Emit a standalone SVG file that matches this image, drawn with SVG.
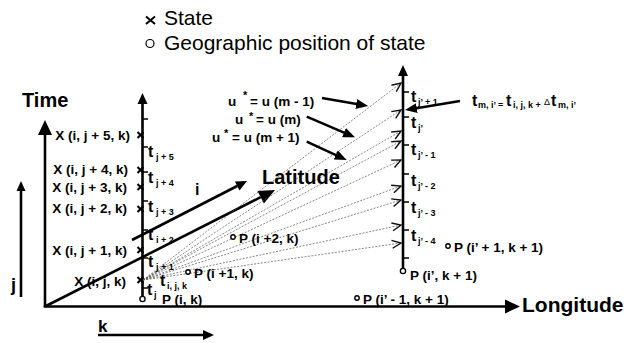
<svg xmlns="http://www.w3.org/2000/svg" width="644" height="343" viewBox="0 0 644 343">
<style>
.ax{stroke:#000;stroke-width:2.6;fill:none}
.hd{fill:#000;stroke:none}
.tk{stroke:#000;stroke-width:1.6;fill:none}
.xm{stroke:#000;stroke-width:2;fill:none}
.dl{stroke:#555;stroke-width:0.7;stroke-dasharray:2 1.4;fill:none;marker-end:url(#open)}
.ar{stroke:#000;stroke-width:2.5;fill:none;marker-end:url(#fill)}
.pt{fill:#fff;stroke:#000;stroke-width:1.4}
.lbl{font-family:"Liberation Sans",Arial,sans-serif;font-weight:bold;font-size:13.5px;fill:#000}
.tt{font-family:"Liberation Sans",Arial,sans-serif;font-weight:bold;font-size:16px;fill:#000}
.sub{font-family:"Liberation Sans",Arial,sans-serif;font-weight:bold;font-size:9px;fill:#000}
.star{font-family:"Liberation Sans",Arial,sans-serif;font-weight:bold;font-size:11px;fill:#000}
.big{font-family:"Liberation Sans",Arial,sans-serif;font-weight:bold;font-size:20px;fill:#000}
.leg{font-family:"Liberation Sans",Arial,sans-serif;font-size:21px;fill:#000}
</style>
<defs>
<marker id="open" viewBox="0 0 9 8" refX="9" refY="4" markerWidth="9" markerHeight="8" markerUnits="userSpaceOnUse" orient="auto" overflow="visible">
<path d="M0,0 L9,4 L0,8" fill="none" stroke="#111" stroke-width="1.4"/>
</marker>
<marker id="fill" viewBox="0 0 12 10" refX="2" refY="5" markerWidth="12" markerHeight="10" markerUnits="userSpaceOnUse" orient="auto">
<path d="M0,0 L12,5 L0,10 z" fill="#000"/>
</marker>
</defs>

<g id="legend">
<path class="xm" d="M146,16.5 L155,24 M155,16.5 L146,24"/>
<text class="leg" x="164" y="25">State</text>
<circle cx="150" cy="43.5" r="4" fill="none" stroke="#000" stroke-width="1.2"/>
<text class="leg" x="164" y="50">Geographic position of state</text>
</g>

<g id="axes">
<line class="ax" x1="45" y1="307" x2="45" y2="134"/>
<polygon class="hd" points="45,120 38,135 52,135"/>
<line class="ax" x1="43.7" y1="306.5" x2="507" y2="306.5"/>
<polygon class="hd" points="520,306.5 505,299.5 505,313.5"/>
<line class="ax" x1="21" y1="297" x2="21" y2="189"/>
<polygon class="hd" points="21,181 16.5,191 25.5,191"/>
<line class="ax" x1="98" y1="335" x2="204" y2="335"/>
<polygon class="hd" points="214,335 203,330 203,340"/>
<line class="ax" x1="45" y1="306.5" x2="260.7" y2="197.2"/>
<polygon class="hd" points="275,190 263.9,203.4 257.5,191"/>
<line class="ax" x1="132" y1="240" x2="237.2" y2="186"/>
<polygon class="hd" points="247,181 239.5,190.4 234.9,181.6"/>
</g>

<g id="time-axis-left">
<line class="ax" x1="142.5" y1="296" x2="142.5" y2="102"/>
<polygon class="hd" points="142.5,93 137.5,104 147.5,104"/>
<path class="tk" d="M142.5,119 H148 M142.5,147 H148 M142.5,172 H148 M142.5,201 H148 M142.5,230 H148 M142.5,258 H148 M142.5,288 H148"/>
<path class="xm" d="M137.5,132 L143.5,138 M143.5,132 L137.5,138 M137.5,167 L143.5,173 M143.5,167 L137.5,173 M137.5,184 L143.5,190 M143.5,184 L137.5,190 M137.5,206 L143.5,212 M143.5,206 L137.5,212 M137.5,247 L143.5,253 M143.5,247 L137.5,253 M137.5,277 L143.5,283 M143.5,277 L137.5,283"/>
<circle class="pt" cx="142.5" cy="299" r="2.6"/>
</g>

<g id="time-axis-right">
<line class="ax" x1="403" y1="268" x2="403" y2="74"/>
<polygon class="hd" points="403,65 398,76 408,76"/>
<path class="tk" d="M403,92 H409 M403,117 H409 M403,145 H409 M403,174 H409 M403,202 H409 M403,230 H409 M403,258 H409"/>
<circle class="pt" cx="403" cy="271" r="2.6"/>
</g>

<g id="connectors">
<line class="dl" x1="143" y1="280" x2="401" y2="83"/>
<line class="dl" x1="143" y1="280" x2="401" y2="110"/>
<line class="dl" x1="143" y1="280" x2="401" y2="131"/>
<line class="dl" x1="143" y1="280" x2="401" y2="141"/>
<line class="dl" x1="143" y1="280" x2="401" y2="160"/>
<line class="dl" x1="143" y1="280" x2="401" y2="186"/>
<line class="dl" x1="143" y1="280" x2="401" y2="200"/>
<line class="dl" x1="143" y1="280" x2="401" y2="225"/>
<line class="dl" x1="143" y1="280" x2="401" y2="243"/>
<line class="ar" x1="322" y1="98" x2="358.2" y2="104.3"/>
<line class="ar" x1="306.7" y1="116.7" x2="345.8" y2="133.4"/>
<line class="ar" x1="306.7" y1="141.7" x2="337.6" y2="155.8"/>
<line class="ar" x1="460" y1="101" x2="414.9" y2="108.4"/>
</g>

<g id="axis-labels">
<text class="big" x="22" y="107">Time</text>
<text class="big" x="262" y="184">Latitude</text>
<text class="big" x="522" y="312" style="font-size:21px">Longitude</text>
<text class="big" x="11" y="291" style="font-size:18px">j</text>
<text class="big" x="98" y="332" style="font-size:17px">k</text>
<text class="big" x="195" y="195" style="font-size:16px">i</text>
</g>

<g id="states">
<text class="lbl" x="130" y="140" text-anchor="end">X (i, j + 5, k)</text>
<text class="lbl" x="128" y="174" text-anchor="end">X (i, j + 4, k)</text>
<text class="lbl" x="127" y="192" text-anchor="end">X (i, j + 3, k)</text>
<text class="lbl" x="127" y="213" text-anchor="end">X (i, j + 2, k)</text>
<text class="lbl" x="127" y="255" text-anchor="end">X (i, j + 1, k)</text>
<text class="lbl" x="126" y="286" text-anchor="end">X (i, j, k)</text>
</g>

<g id="time-labels-left">
<text class="tt" x="148" y="157">t</text><text class="sub" x="156" y="160">j + 5</text>
<text class="tt" x="148" y="183">t</text><text class="sub" x="156" y="186">j + 4</text>
<text class="tt" x="148" y="212">t</text><text class="sub" x="156" y="215">j + 3</text>
<text class="tt" x="148" y="240">t</text><text class="sub" x="156" y="243">i + 2</text>
<text class="tt" x="148" y="267">t</text><text class="sub" x="156" y="270">j + 1</text>
<text class="tt" x="160" y="286">t</text><text class="sub" x="167" y="289">i, j, k</text>
<text class="tt" x="147" y="295">t</text><text class="sub" x="154" y="298">j</text>
</g>

<g id="time-labels-right">
<text class="tt" x="411" y="102">t</text><text class="sub" x="418" y="105">j’ + 1</text>
<text class="tt" x="411" y="128">t</text><text class="sub" x="418" y="131">j’</text>
<text class="tt" x="411" y="155">t</text><text class="sub" x="418" y="158">j’ - 1</text>
<text class="tt" x="411" y="186">t</text><text class="sub" x="418" y="189">j’ - 2</text>
<text class="tt" x="411" y="213">t</text><text class="sub" x="418" y="216">j’ - 3</text>
<text class="tt" x="411" y="241">t</text><text class="sub" x="418" y="244">j’ - 4</text>
</g>

<g id="positions">
<text class="lbl" x="162" y="304">P (i, k)</text>
<circle class="pt" cx="188" cy="272" r="2.2"/>
<text class="lbl" x="194" y="278">P (i +1, k)</text>
<circle class="pt" cx="233" cy="237" r="2.2"/>
<text class="lbl" x="239" y="243">P (i +2, k)</text>
<circle class="pt" cx="357" cy="298" r="2.2"/>
<text class="lbl" x="363" y="304">P (i’ - 1, k + 1)</text>
<text class="lbl" x="410" y="280">P (i’, k + 1)</text>
<circle class="pt" cx="448" cy="246" r="2.2"/>
<text class="lbl" x="454" y="252">P (i’ + 1, k + 1)</text>
</g>

<g id="u-labels">
<text class="lbl" x="228" y="106">u</text><text class="star" x="243" y="99">*</text><text class="lbl" x="250" y="106">= u (m - 1)</text>
<text class="lbl" x="235" y="124">u</text><text class="star" x="249" y="120">*</text><text class="lbl" x="256" y="124">= u (m)</text>
<text class="lbl" x="212" y="142">u</text><text class="star" x="224" y="137">*</text><text class="lbl" x="232" y="142">= u (m + 1)</text>
</g>

<g id="formula">
<text class="tt" x="472" y="106">t</text>
<text class="sub" x="478" y="108">m, i’ =</text>
<text class="tt" x="506" y="106">t</text>
<text class="sub" x="513" y="108">i, j, k +</text>
<text class="sub" x="544" y="105" style="font-weight:normal">Δ</text>
<text class="tt" x="551" y="106">t</text>
<text class="sub" x="558" y="108">m, i’</text>
</g>
</svg>
